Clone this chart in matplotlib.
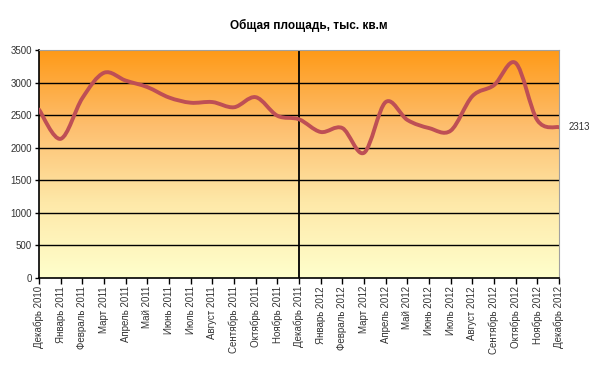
import numpy as np
import matplotlib
matplotlib.use("Agg")
import matplotlib.pyplot as plt
from matplotlib.path import Path
from matplotlib.patches import PathPatch
from matplotlib.colors import LinearSegmentedColormap

plt.rcParams['font.family'] = ['Liberation Sans', 'DejaVu Sans']

months = ["Декабрь 2010", "Январь 2011", "Февраль 2011", "Март 2011", "Апрель 2011",
          "Май 2011", "Июнь 2011", "Июль 2011", "Август 2011", "Сентябрь 2011",
          "Октябрь 2011", "Ноябрь 2011", "Декабрь 2011", "Январь 2012", "Февраль 2012",
          "Март 2012", "Апрель 2012", "Май 2012", "Июнь 2012", "Июль 2012",
          "Август 2012", "Сентябрь 2012", "Октябрь 2012", "Ноябрь 2012", "Декабрь 2012"]
values = [2585, 2135, 2760, 3150, 3030, 2930, 2770, 2690, 2700, 2620, 2775, 2490, 2435,
          2240, 2300, 1920, 2700, 2425, 2300, 2260, 2790, 2960, 3300, 2420, 2313]
yticks = [0, 500, 1000, 1500, 2000, 2500, 3000, 3500]
title = "Общая площадь, тыс. кв.м"

fig = plt.figure(figsize=(6.0, 3.68), dpi=100)
ax = fig.add_axes([0.065, 0.2454, 0.8667, 0.6187])

n = len(values)
x = np.arange(n, dtype=float)
y = np.array(values, dtype=float)

# gradient background
cmap = LinearSegmentedColormap.from_list("g", ["#FFFFCC", "#FEE8A8", "#FDBE6E", "#FF9A18"])
grad = np.linspace(0, 1, 256).reshape(-1, 1)
ax.imshow(grad, extent=[0, n - 1, 0, 3500], origin="lower", aspect="auto",
          cmap=cmap, zorder=0, interpolation="bicubic")

# smoothed line (Catmull-Rom style bezier, as in Excel)
verts = [(x[0], y[0])]
codes = [Path.MOVETO]
for i in range(n - 1):
    p0 = np.array([x[max(i - 1, 0)], y[max(i - 1, 0)]])
    p1 = np.array([x[i], y[i]])
    p2 = np.array([x[i + 1], y[i + 1]])
    p3 = np.array([x[min(i + 2, n - 1)], y[min(i + 2, n - 1)]])
    c1 = p1 + (p2 - p0) / 6.0
    c2 = p2 - (p3 - p1) / 6.0
    verts += [tuple(c1), tuple(c2), tuple(p2)]
    codes += [Path.CURVE4] * 3
patch = PathPatch(Path(verts, codes), facecolor="none", edgecolor="#BE4F55",
                  lw=2.8, zorder=3, capstyle="round", joinstyle="round")
ax.add_patch(patch)

ax.set_xlim(0, n - 1)
ax.set_ylim(0, 3500)
ax.set_yticks(yticks)
ax.set_yticklabels([str(v) for v in yticks])
ax.set_xticks(x)
ax.set_xticklabels(months, rotation=90)
for yv in yticks[1:-1]:
    ax.axhline(yv, color="black", lw=1.0, zorder=2)
ax.axvline(12, color="black", lw=1.3, zorder=2)

ax.tick_params(axis="both", labelsize=7, colors="#333333", length=4, width=1, direction="out", pad=2)
ax.tick_params(axis="x", colors="black", labelcolor="#333333")
ax.tick_params(axis="y", colors="black", labelcolor="#333333", length=3)
ax.spines["left"].set_color("black")
ax.spines["bottom"].set_color("black")
ax.spines["left"].set_linewidth(1.2)
ax.spines["bottom"].set_linewidth(1.2)
ax.spines["top"].set_color("#A0A0A0")
ax.spines["right"].set_color("#A0A0A0")

ax.annotate(str(values[-1]), xy=(x[-1], y[-1]), xytext=(7, 0), textcoords="offset points",
            fontsize=7, color="#333333", va="center", ha="left", annotation_clip=False)

fig.text(0.515, 0.932, title, ha="center", va="center", fontsize=8.5, fontweight="bold")

fig.savefig("out.png", dpi=100)
